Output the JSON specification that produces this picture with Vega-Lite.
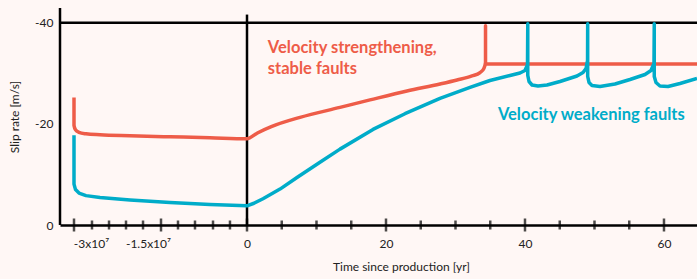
{
  "$schema": "https://vega.github.io/schema/vega-lite/v6.json",
  "width": 637,
  "height": 217,
  "autosize": {"type": "none"},
  "padding": {"left": 60, "top": 8, "right": 0, "bottom": 54},
  "background": "#FFF7F5",
  "config": {
    "view": {"stroke": null},
    "font": "Lato",
    "axis": {"labelFont": "Lato", "titleFont": "Lato", "labelColor": "#222", "titleColor": "#222", "labelFontSize": 12, "titleFontSize": 12, "titleFontWeight": "normal", "grid": false, "ticks": false, "domain": true, "domainColor": "#000", "domainWidth": 2.5}
  },
  "datasets": {
    "strengthening": [
      {"i": 1, "t": -34475000, "v": -25.2},
      {"i": 2, "t": -34475000, "v": -19.7},
      {"i": 3, "t": -34080000, "v": -18.82},
      {"i": 4, "t": -33160000, "v": -18.33},
      {"i": 5, "t": -31320000, "v": -18.03},
      {"i": 6, "t": -27630000, "v": -17.83},
      {"i": 7, "t": -19740000, "v": -17.64},
      {"i": 8, "t": -11670000, "v": -17.44},
      {"i": 9, "t": -5610000, "v": -17.24},
      {"i": 10, "t": 0, "v": -17.04},
      {"i": 11, "t": 1.5, "v": -18.2},
      {"i": 12, "t": 3.5, "v": -19.45},
      {"i": 13, "t": 7.63, "v": -21.28},
      {"i": 14, "t": 13.38, "v": -23.25},
      {"i": 15, "t": 17.7, "v": -24.73},
      {"i": 16, "t": 23.02, "v": -26.5},
      {"i": 17, "t": 27.77, "v": -27.88},
      {"i": 18, "t": 30.22, "v": -28.67},
      {"i": 19, "t": 32.37, "v": -29.46},
      {"i": 20, "t": 33.53, "v": -30.14},
      {"i": 21, "t": 34.1, "v": -31.0},
      {"i": 22, "t": 34.32, "v": -32.12},
      {"i": 23, "t": 34.32, "v": -39.41},
      {"i": 24, "t": 34.32, "v": -31.82},
      {"i": 25, "t": 64.75, "v": -31.82}
    ],
    "weakening": [
      {"i": 1, "t": -34475000, "v": -17.73},
      {"i": 2, "t": -34475000, "v": -8.08},
      {"i": 3, "t": -34080000, "v": -7.0},
      {"i": 4, "t": -33160000, "v": -6.31},
      {"i": 5, "t": -31320000, "v": -5.81},
      {"i": 6, "t": -27630000, "v": -5.42},
      {"i": 7, "t": -19740000, "v": -4.93},
      {"i": 8, "t": -11670000, "v": -4.43},
      {"i": 9, "t": -5610000, "v": -4.04},
      {"i": 10, "t": 0, "v": -3.8},
      {"i": 11, "t": 1.0, "v": -4.3},
      {"i": 12, "t": 2.3, "v": -5.2},
      {"i": 13, "t": 4.75, "v": -7.1},
      {"i": 14, "t": 7.19, "v": -9.4},
      {"i": 15, "t": 10.5, "v": -12.4},
      {"i": 16, "t": 13.38, "v": -15.0},
      {"i": 17, "t": 18.13, "v": -18.9},
      {"i": 18, "t": 22.73, "v": -22.0},
      {"i": 19, "t": 27.77, "v": -25.02},
      {"i": 20, "t": 32.09, "v": -27.19},
      {"i": 21, "t": 34.96, "v": -28.57},
      {"i": 22, "t": 37.84, "v": -29.56},
      {"i": 23, "t": 39.28, "v": -30.05},
      {"i": 24, "t": 40.0, "v": -30.54},
      {"i": 25, "t": 40.36, "v": -31.72},
      {"i": 26, "t": 40.4, "v": -39.8},
      {"i": 27, "t": 40.4, "v": -29.56},
      {"i": 28, "t": 40.58, "v": -28.37},
      {"i": 29, "t": 41.01, "v": -27.68},
      {"i": 30, "t": 41.87, "v": -27.49},
      {"i": 31, "t": 43.17, "v": -27.68},
      {"i": 32, "t": 45.04, "v": -28.37},
      {"i": 33, "t": 47.48, "v": -29.46},
      {"i": 34, "t": 48.35, "v": -30.15},
      {"i": 35, "t": 48.78, "v": -30.94},
      {"i": 36, "t": 49.0, "v": -32.5},
      {"i": 37, "t": 49.02, "v": -39.8},
      {"i": 38, "t": 49.02, "v": -29.36},
      {"i": 39, "t": 49.21, "v": -28.18},
      {"i": 40, "t": 49.64, "v": -27.59},
      {"i": 41, "t": 50.79, "v": -27.39},
      {"i": 42, "t": 52.95, "v": -27.88},
      {"i": 43, "t": 55.11, "v": -28.77},
      {"i": 44, "t": 57.27, "v": -29.75},
      {"i": 45, "t": 58.13, "v": -30.54},
      {"i": 46, "t": 58.56, "v": -31.92},
      {"i": 47, "t": 58.6, "v": -39.8},
      {"i": 48, "t": 58.6, "v": -29.36},
      {"i": 49, "t": 58.85, "v": -28.18},
      {"i": 50, "t": 59.42, "v": -27.49},
      {"i": 51, "t": 60.58, "v": -27.39},
      {"i": 52, "t": 62.3, "v": -27.98},
      {"i": 53, "t": 64.75, "v": -28.97}
    ],
    "hrule": [{"v": -40}],
    "vrule": [{"t": 0, "v": 0, "v2": -41.6}, {"t": -38160000, "v": 0, "v2": -42.9}],
    "majorTicks": [
      {"t": -34475000, "v": 0}, {"t": -13030000, "v": 0}, {"t": 0, "v": 0}, {"t": 20, "v": 0}, {"t": 40, "v": 0}, {"t": 60, "v": 0}
    ],
    "minorTicks": [
      {"t": -29740000, "v": 0}, {"t": -25260000, "v": 0}, {"t": -20790000, "v": 0}, {"t": -16310000, "v": 0},
      {"t": -10455000, "v": 0}, {"t": -7880000, "v": 0}, {"t": -5150000, "v": 0}, {"t": -2580000, "v": 0},
      {"t": 5, "v": 0}, {"t": 10, "v": 0}, {"t": 15, "v": 0}, {"t": 25, "v": 0}, {"t": 30, "v": 0}, {"t": 35, "v": 0},
      {"t": 45, "v": 0}, {"t": 50, "v": 0}, {"t": 55, "v": 0}
    ],
    "labels": [
      {"t": 3.0, "v": -34.1, "label": "Velocity strengthening,\nstable faults", "s": "strengthening"},
      {"t": 36.1, "v": -20.7, "label": "Velocity weakening faults", "s": "weakening"}
    ]
  },
  "layer": [
    {
      "data": {"name": "hrule"},
      "mark": {"type": "rule", "color": "#000", "strokeWidth": 2.5},
      "encoding": {
        "y": {"field": "v", "type": "quantitative", "scale": {"domain": [0, -42.9], "nice": false, "zero": false},
          "axis": {"values": [-40, -20, 0], "title": "Slip rate [m/s]", "labelExpr": "replace(datum.label, '\u2212', '-')", "labelPadding": 7, "titlePadding": 13, "domain": false}}
      }
    },
    {
      "data": {"name": "vrule"},
      "mark": {"type": "rule", "color": "#000", "strokeWidth": 2.5},
      "encoding": {
        "x": {"field": "t", "type": "quantitative",
          "scale": {"domain": [-38160000, -15000000, 0, 64.75], "range": [0, 88, 187, 637], "nice": false, "zero": false},
          "axis": {"values": [-30000000, -15000000, 0, 20, 40, 60], "title": "Time since production [yr]", "labelExpr": "datum.value == -30000000 ? '-3x10⁷' : datum.value == -15000000 ? '-1.5x10⁷' : datum.label", "labelPadding": 13, "titlePadding": 12, "labelOverlap": false, "labelFlush": false, "titleX": 341, "titleAnchor": "middle", "domain": true}},
        "y": {"field": "v", "type": "quantitative", "scale": {"domain": [0, -42.9], "nice": false, "zero": false}},
        "y2": {"field": "v2"}
      }
    },
    {
      "data": {"name": "majorTicks"},
      "mark": {"type": "tick", "orient": "vertical", "color": "#000", "thickness": 2.5, "size": 13},
      "encoding": {
        "x": {"field": "t", "type": "quantitative", "scale": {"domain": [-38160000, -15000000, 0, 64.75], "range": [0, 88, 187, 637], "nice": false, "zero": false}},
        "y": {"field": "v", "type": "quantitative", "scale": {"domain": [0, -42.9], "nice": false, "zero": false}}
      }
    },
    {
      "data": {"name": "minorTicks"},
      "mark": {"type": "tick", "orient": "vertical", "color": "#000", "thickness": 2.5, "size": 9},
      "encoding": {
        "x": {"field": "t", "type": "quantitative", "scale": {"domain": [-38160000, -15000000, 0, 64.75], "range": [0, 88, 187, 637], "nice": false, "zero": false}},
        "y": {"field": "v", "type": "quantitative", "scale": {"domain": [0, -42.9], "nice": false, "zero": false}}
      }
    },
    {
      "data": {"name": "strengthening"},
      "mark": {"type": "line", "color": "#EE5C48", "strokeWidth": 3.5, "strokeJoin": "round", "strokeCap": "butt", "interpolate": "monotone"},
      "encoding": {
        "x": {"field": "t", "type": "quantitative", "scale": {"domain": [-38160000, -15000000, 0, 64.75], "range": [0, 88, 187, 637], "nice": false, "zero": false}},
        "y": {"field": "v", "type": "quantitative", "scale": {"domain": [0, -42.9], "nice": false, "zero": false}},
        "order": {"field": "i", "type": "quantitative"}
      }
    },
    {
      "data": {"name": "weakening"},
      "mark": {"type": "line", "color": "#00ACC9", "strokeWidth": 3.5, "strokeJoin": "round", "strokeCap": "butt"},
      "encoding": {
        "x": {"field": "t", "type": "quantitative", "scale": {"domain": [-38160000, -15000000, 0, 64.75], "range": [0, 88, 187, 637], "nice": false, "zero": false}},
        "y": {"field": "v", "type": "quantitative", "scale": {"domain": [0, -42.9], "nice": false, "zero": false}},
        "order": {"field": "i", "type": "quantitative"}
      }
    },
    {
      "data": {"name": "labels"},
      "mark": {"type": "text", "align": "left", "baseline": "alphabetic", "fontSize": 16.5, "fontWeight": "bold", "lineBreak": "\n", "lineHeight": 21},
      "encoding": {
        "x": {"field": "t", "type": "quantitative", "scale": {"domain": [-38160000, -15000000, 0, 64.75], "range": [0, 88, 187, 637], "nice": false, "zero": false}},
        "y": {"field": "v", "type": "quantitative", "scale": {"domain": [0, -42.9], "nice": false, "zero": false}},
        "text": {"field": "label"},
        "color": {"field": "s", "type": "nominal", "scale": {"domain": ["strengthening", "weakening"], "range": ["#EE5C48", "#00ACC9"]}, "legend": null}
      }
    }
  ]
}
